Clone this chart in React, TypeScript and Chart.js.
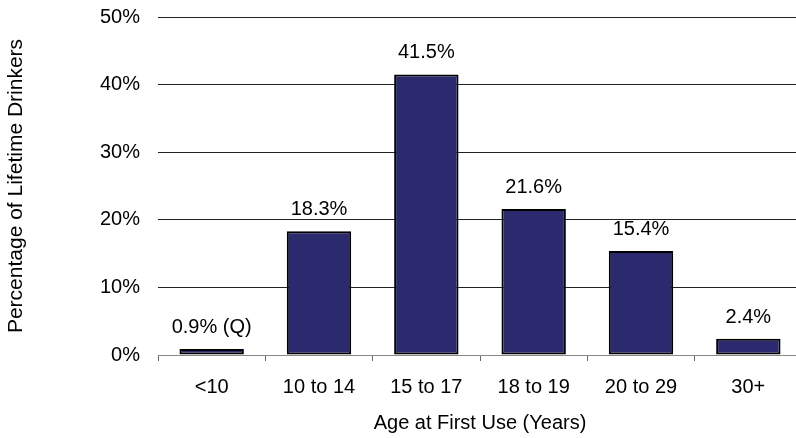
import React, { useEffect, useRef } from "react";
import { Chart, registerables } from "chart.js";

Chart.register(...registerables);

const categories = ["<10", "10 to 14", "15 to 17", "18 to 19", "20 to 29", "30+"];
const values = [0.9, 18.3, 41.5, 21.6, 15.4, 2.4];
const dataLabels = ["0.9% (Q)", "18.3%", "41.5%", "21.6%", "15.4%", "2.4%"];
const yTickLabels = ["0%", "10%", "20%", "30%", "40%", "50%"];

const FONT = "'Liberation Sans', Arial, sans-serif";

const labelPlugin = {
  id: "barLabels",
  afterDatasetsDraw(chart: any) {
    const ctx = chart.ctx;
    const meta = chart.getDatasetMeta(0);
    ctx.save();
    ctx.font = `20px ${FONT}`;
    ctx.fillStyle = "#000";
    ctx.textAlign = "center";
    ctx.textBaseline = "alphabetic";
    meta.data.forEach((el: any, i: number) => {
      ctx.fillText(dataLabels[i], el.x, el.y - 16);
    });
    ctx.restore();
  },
};

export default function App() {
  const ref = useRef<HTMLCanvasElement>(null);
  useEffect(() => {
    document.body.style.overflow = "hidden";
    const chart = new Chart(ref.current!, {
      type: "bar",
      data: {
        labels: categories,
        datasets: [
          {
            data: values,
            backgroundColor: "#2B2A6E",
            borderColor: "#000",
            borderWidth: 2,
            borderSkipped: false,
            barPercentage: 0.6,
            categoryPercentage: 1,
          },
        ],
      },
      options: {
        animation: false,
        responsive: false,
        layout: { padding: { top: 17, right: 2, left: 0, bottom: 0 } },
        plugins: { legend: { display: false }, tooltip: { enabled: false } },
        scales: {
          x: {
            offset: true,
            grid: {
              offset: true,
              drawOnChartArea: false,
              drawTicks: true,
              tickLength: 6,
              color: "#666",
            },
            border: { display: true, color: "#888", width: 1 },
            ticks: {
              color: "#000",
              font: { family: FONT, size: 20 },
              padding: 14,
              maxRotation: 0,
            },
            title: {
              display: true,
              text: "Age at First Use (Years)",
              color: "#000",
              font: { family: FONT, size: 20 },
              padding: { top: 4, bottom: 3 },
            },
            afterFit: (s: any) => {
              s.height = 83;
              s.paddingLeft = 0;
              s.paddingRight = 0;
            },
          },
          y: {
            min: 0,
            max: 50,
            ticks: {
              stepSize: 10,
              color: "#000",
              font: { family: FONT, size: 20 },
              padding: 18,
              callback: (_v: any, i: number) => yTickLabels[i],
            },
            grid: {
              drawTicks: false,
              color: (c: any) => (c.index === 0 ? "rgba(0,0,0,0)" : "#222"),
            },
            border: { display: false },
            title: {
              display: true,
              text: "Percentage of Lifetime Drinkers",
              color: "#000",
              font: { family: FONT, size: 21 },
              padding: { top: 4, bottom: 0 },
            },
            afterFit: (s: any) => {
              s.width = 158;
              s.paddingTop = 0;
              s.paddingBottom = 0;
            },
          },
        },
      },
      plugins: [labelPlugin],
    });
    return () => chart.destroy();
  }, []);
  return (
    <div style={{ position: "fixed", left: 0, top: 0, width: 804, height: 438 }}>
      <canvas ref={ref} width={804} height={438} />
    </div>
  );
}
